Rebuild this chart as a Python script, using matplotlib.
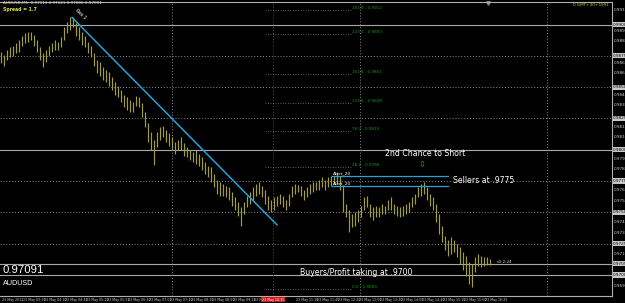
import matplotlib
matplotlib.use("Agg")
import matplotlib.pyplot as plt
import numpy as np

# ---------------- data (prices as pips above 0.9700) ----------------
high_pips = [178, 176, 180, 182, 183, 185, 188, 191, 193, 194, 194, 192,
             188, 182, 177, 180, 183, 185, 188, 186, 190, 198, 202, 206, 206,
             201, 198, 194, 191, 186, 183, 177, 172, 170, 166, 164,
             162, 158, 154, 151, 148, 144, 142, 140, 138, 143, 142,
             137, 130, 121, 114, 108, 114, 118, 119, 116, 113, 110,
             106, 108, 110, 105, 102, 100, 98, 100, 97, 94, 90, 87,
             86, 81, 76, 74, 73, 71, 70, 66, 62, 58, 54, 58,
             63, 66, 70, 73, 74, 71, 68, 63, 60, 62, 63, 65,
             63, 60, 65, 71, 73, 72, 71, 68, 70, 73, 74, 74,
             76, 78, 76, 78, 79, 79, 82, 79,
             71, 57, 52, 49, 50, 52, 55, 62, 63, 57, 54, 55,
             54, 57, 55, 60, 62, 57, 55, 54, 55, 57, 58, 62,
             65, 70, 73, 74, 70, 65, 62, 57, 49, 39, 31, 28,
             30, 28, 25, 22, 18, 15, 10, 9, 14, 17, 15, 14, 14, 13]
low_pips = [169, 167, 172, 174, 175, 177, 178, 183, 185, 186, 188, 183,
            178, 172, 166, 170, 175, 178, 180, 180, 182, 188, 193, 196, 198,
            191, 188, 184, 182, 177, 174, 167, 161, 159, 156, 154,
            151, 148, 144, 142, 138, 134, 132, 130, 130, 135, 134,
            126, 118, 106, 100, 88, 102, 108, 110, 106, 103, 100,
            97, 100, 100, 95, 94, 92, 90, 89, 87, 84, 81, 78,
            74, 70, 65, 63, 63, 62, 60, 55, 52, 47, 39, 49,
            54, 57, 60, 63, 65, 62, 57, 52, 50, 52, 55, 57,
            54, 52, 55, 62, 65, 66, 63, 60, 62, 65, 66, 68,
            68, 70, 68, 70, 71, 73, 73, 68,
            50, 46, 34, 38, 39, 42, 46, 52, 54, 46, 44, 46,
            46, 49, 49, 52, 52, 49, 47, 46, 47, 49, 50, 54,
            57, 62, 63, 65, 60, 55, 52, 42, 33, 26, 20, 15,
            17, 18, 14, 9, 4, -1, -7, -10, 2, 7, 6, 7, 8, 8]
base_price = 0.9700
highs = base_price + np.array(high_pips) / 10000.0
lows = base_price + np.array(low_pips) / 10000.0
bar_idx = np.arange(len(highs))

last_price = 0.97091
solid_levels = [0.9900, 0.9800, 0.9700]
dotted_levels = [0.9875, 0.9850, 0.9825, 0.9775, 0.9750, 0.9725]
vgrid_idx = [57, 119.7, 182]
red_vline_idx = 90.7

trend_start = (23.7, 0.99056)
trend_end = (92.0, 0.97400)

alert_levels = [0.97792, 0.97712]
alert_span = (110.3, 149.0)

fib_levels = [0.99120, 0.98928, 0.98608, 0.98376, 0.98152, 0.97864, 0.96888]
fib_labels = ["261.8 - 0.9912", "223.6 - 0.9893", "161.8 - 0.9861",
              "123.6 - 0.9838", "76.4 - 0.9815", "38.2 - 0.9786",
              "0.0 - 0.9689"]
fib_span = (88.0, 117.0)

axis_ticks = [0.99120, 0.99035, 0.98950, 0.98865, 0.98780, 0.98695, 0.98610,
              0.98525, 0.98440, 0.98355, 0.98270, 0.98185, 0.98100, 0.98015,
              0.97930, 0.97845, 0.97760, 0.97675, 0.97590, 0.97505, 0.97420,
              0.97335, 0.97250, 0.97165, 0.97080, 0.96995, 0.96910]

time_labels = ["23 May 2012", "23 May 03:35", "23 May 04:10", "23 May 04:45",
               "23 May 05:20", "23 May 05:55", "23 May 06:30", "23 May 07:05",
               "23 May 07:40", "23 May 08:15", "23 May 08:50", "23 May 09:25",
               "23 May 10:00", "23 May 10:35", "23 May 11:10", "23 May 11:45",
               "23 May 12:20", "23 May 12:55", "23 May 13:30", "23 May 14:05",
               "23 May 14:40", "23 May 15:15", "23 May 15:50", "23 May 16:25"]
time_label_step = 7  # bars between labels
red_label = "23 May 10:35"

# ---------------- figure ----------------
W, H = 625, 303
fig = plt.figure(figsize=(W / 100, H / 100), dpi=100, facecolor="black")
ax = fig.add_axes([0, 7 / H, 612 / W, 294 / H], facecolor="black")
ymin, ymax = 0.96832, 0.99180
xmin, xmax = -0.33, 203.67
ax.set_xlim(xmin, xmax)
ax.set_ylim(ymin, ymax)
ax.set_xticks([])
ax.set_yticks([])
for s in ax.spines.values():
    s.set_color("#b0b0b0")
    s.set_linewidth(0.8)
ax.spines["left"].set_visible(False)

# grid / horizontal lines
for lv in dotted_levels:
    ax.axhline(lv, color="#8c8c8c", lw=0.7, ls=(0, (1, 2)), zorder=1)
for lv in solid_levels:
    ax.axhline(lv, color="#a8a8a8", lw=0.8, zorder=1)
ax.axhline(last_price, color="#a8a8a8", lw=0.8, zorder=1)
for vx in vgrid_idx:
    ax.axvline(vx, color="#8c8c8c", lw=0.7, ls=(0, (1, 2)), zorder=1)
ax.axvline(red_vline_idx, color="#c02020", lw=0.7, ls=(0, (1, 2)), zorder=1)

# fib levels
for lv, lab in zip(fib_levels, fib_labels):
    ax.plot(fib_span, [lv, lv], color="#7a7a7a", lw=0.6, ls=(0, (1, 2)), zorder=1)
    ax.text(fib_span[1], lv, lab, color="#189a18", fontsize=3.0,
            va="bottom", ha="left", zorder=3)

# price bars
ax.vlines(bar_idx, lows, highs, color="#a29c3a", lw=0.85, zorder=2)

# trendline
ax.plot([trend_start[0], trend_end[0]], [trend_start[1], trend_end[1]],
        color="#2b9fd8", lw=1.1, zorder=3)
ax.text(trend_start[0] + 0.6, trend_start[1] + 0.0003, "Res 1", color="white",
        fontsize=3.3, rotation=-42, ha="left", va="center", zorder=4)

# alert lines
for lv in alert_levels:
    ax.plot(alert_span, [lv, lv], color="#2b9fd8", lw=0.9, zorder=3)
    ax.text(alert_span[0] + 0.3, lv + 0.00003, "Alert_20", color="white",
            fontsize=3.2, ha="left", va="bottom", zorder=4)

# annotations
txt_font = ["DejaVu Sans"]
ax.text(141.3, 0.97974, "2nd Chance to Short", color="white", fontsize=5.6,
        ha="center", va="center", family=txt_font, zorder=5)
ax.text(140.3, 0.97878, "\u21e9", color="#20c020", fontsize=6,
        ha="center", va="center", zorder=5)
ax.text(150.7, 0.97752, "Sellers at .9775", color="white", fontsize=5.6,
        ha="left", va="center", family=txt_font, zorder=5)
ax.text(99.7, 0.97018, "Buyers/Profit taking at .9700", color="white",
        fontsize=5.6, ha="left", va="center", family=txt_font, zorder=5)
ax.text(len(highs) + 1, last_price + 0.00010, "<0:2:24", color="#d0d0d0",
        fontsize=3, ha="left", va="center", zorder=5)


def fpx(x, y):
    return x / W, 1 - y / H


# top-left info
fig.text(*fpx(3, 3.5), "AUDUSD,M5  0.97113 0.97121 0.97085 0.97091",
         color="#d8d8d8", fontsize=3.0, ha="left", va="center")
fig.text(*fpx(3, 10), "Spread = 1.7", color="#e0e040", fontsize=3.3,
         ha="left", va="center", weight="bold")
fig.text(*fpx(609, 5.5), "0 GMT+30+5991", color="#c8c840", fontsize=3.0,
         ha="right", va="center")
fig.text(*fpx(3, 270), "0.97091", color="white", fontsize=8.2,
         ha="left", va="center", family=["Liberation Sans"])
fig.text(*fpx(3, 283.5), "AUDUSD", color="white", fontsize=5.2,
         ha="left", va="center", family=["Liberation Sans"])

# right price axis labels (skip ticks hidden under line boxes)
box_levels = solid_levels + dotted_levels + [last_price]
trans = ax.get_yaxis_transform()
for t in axis_ticks:
    if min(abs(t - b) for b in box_levels) < 0.00045:
        continue
    ax.text(1.003, t, f"{t:.5f}", transform=trans, color="#d0d0d0",
            fontsize=3.0, ha="left", va="center", clip_on=False)
for lv in box_levels:
    ax.text(1.002, lv, f"{lv:.5f}", transform=trans, color="black",
            fontsize=3.0, ha="left", va="center", clip_on=False, zorder=6,
            bbox=dict(boxstyle="square,pad=0.15", fc="#c8c8c8", ec="none"))

# time axis labels
xtrans = ax.get_xaxis_transform()
for k, lab in enumerate(time_labels):
    if abs(k * time_label_step - red_vline_idx) < 6:
        continue
    ax.text(k * time_label_step + 0.2, -0.012, lab, transform=xtrans,
            color="#d0d0d0", fontsize=2.3, ha="left", va="center",
            clip_on=False)
ax.text(red_vline_idx, -0.012, red_label, transform=xtrans, color="white",
        fontsize=2.3, ha="center", va="center", clip_on=False, zorder=6,
        bbox=dict(boxstyle="square,pad=0.25", fc="#d01818", ec="none"))

# shift marker
ax.plot([162.3], [ymax - 0.00005], marker="v", color="#909090",
        markersize=2.5, clip_on=False)

fig.savefig("out.png", dpi=100, facecolor="black")
